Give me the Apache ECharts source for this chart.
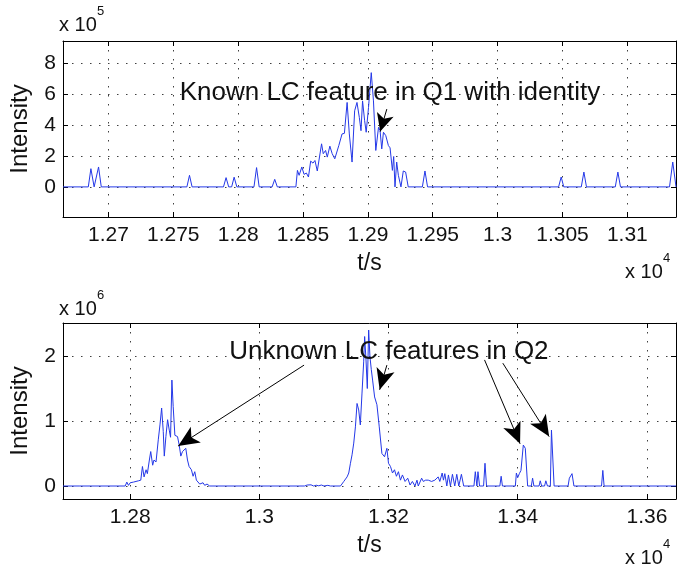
<!DOCTYPE html>
<html><head><meta charset="utf-8">
<script src="https://cdn.jsdelivr.net/npm/echarts@6/dist/echarts.min.js"></script>
<style>html,body{margin:0;padding:0;background:#fff}#c{width:685px;height:577px}</style>
</head><body><div id="c"></div>
<script>
// ---------- data (t in s, intensity in counts) ----------
const topT = [12665,12684.5,12686.5,12689,12692.4,12694.5,12760.5,12762.5,12764.5,12788.7,12790.7,12792.7,12795,12796.9,12799,12812.2,12814.2,12816.2,12826.2,12828.2,12830.2,
 12844.5,12845.7,12847.0,12849.1,12850.8,12852.6,12854.2,12855.9,12857.7,12859.2,12861.0,12864.3,12865.6,12867.4,12868.7,12870.7,12872.5,12874.5,12877.6,12880.1,12881.9,12884.0,12885.7,12887.8,12889.8,12891.6,12893.4,12894.7,12895.9,12897.5,12898.7,12900.5,12902.6,12904.3,12906.1,12908.2,12909.4,12910.7,12912.0,12913.8,12915.8,12917.1,12918.9,12919.9,12920.9,12922.2,12923.5,12925.5,12927.3,12929.1,12931.1,
 12942,12944,12946,13047,13049,13051,13064.5,13066.5,13068.5,13090.7,13092.7,13094.7,13132.5,13135,13137.5];
const topI = [0,0,118000,0,129000,0,0,75000,0,0,60000,0,0,63000,0,0,125000,0,0,49000,0,
 0,107000,75000,129000,81000,90000,64000,167000,154000,171000,103000,279000,215000,236000,193000,264000,215000,182000,268000,343000,347000,547000,343000,161000,493000,547000,450000,364000,557000,429000,354000,515000,740000,557000,236000,386000,364000,246000,354000,332000,268000,253000,107000,197000,0,161000,75000,0,103000,96000,0,
 0,103000,0,0,64000,0,0,96000,0,0,96000,0,0,161000,0];

const botT = [12696,12721,12724,12727,12792.3,12794.8,12797.4,12800,12805,12812.8,12816.4,12819,12821.5,12824.6,12826.6,12829.7,12831.8,12834.8,12836.9,12840,12843.5,12846.1,12848.7,12851.2,12852.8,12855.3,12857.9,12860.5,12862.5,12864.6,12866.6,12869.2,12873.3,12875.9,12878.4,12881,12883.5,12886.1,12888.7,12891.2,12894.8,12897.4,12900,12902.5,12905.1,12907.7,12912.8,12915.4,12919,12923,
 13070,13074,13077,13080,13084,13088,13092,13096,13100,13106,13110,13125.6,
 13130.7,13135.8,13138.4,13141,13143.5,13146.1,13148.7,13151.2,13153.8,13156.3,13158.9,13161.5,13163,13165.1,13167.1,13169.2,13171.2,13173.3,13175.3,13178.4,13182,13185.6,13189.7,13193.8,13197.4,13199.9,13203,13206.1,13209.2,13212.2,13215.3,13218.4,13221.5,13225.6,13229.7,13233.3,13236.9,13240.9,13244,13246,13251.2,13253.8,13257.4,13261.5,13266.6,13271.7,13276.8,13279.4,13283,13285,13287.1,13290.2,13292.7,13295.8,13298.9,13302.5,13305.6,13308.7,13312.8,13316.3,
 13332.2,13334.3,13336.8,13338.4,13340.9,13347.1,13349.3,13351.7,13372.3,13374.3,13376.3,13396.3,13397.9,13400,13402.5,13405,13408.6,13411.7,13415.3,13421,13423,13425,13433,13434.8,13437,13441.5,13443.5,13446,13450.5,13452.2,13456.3,13477.9,13479.9,13481.9,13484,13487,13529.7,13531.7,13533.7,13645];
const botI = [0,0,20000,0,0,60000,10000,50000,60000,80000,90000,300000,140000,250000,190000,400000,530000,320000,400000,370000,710000,940000,1200000,840000,460000,760000,1020000,860000,750000,1630000,1220000,780000,760000,630000,460000,530000,500000,580000,400000,300000,250000,150000,220000,90000,120000,30000,50000,10000,30000,0,
 0,15000,5000,18000,0,12000,3000,15000,0,10000,0,0,
 70000,140000,200000,350000,480000,660000,910000,1270000,1170000,940000,1430000,1910000,2300000,1940000,1500000,2400000,1990000,1790000,1630000,1370000,1250000,910000,500000,450000,580000,350000,300000,200000,250000,150000,220000,90000,170000,70000,120000,15000,70000,0,90000,0,120000,70000,90000,90000,70000,90000,140000,70000,200000,90000,190000,0,170000,0,180000,0,180000,0,180000,0,
 0,220000,0,220000,0,0,350000,0,0,150000,0,0,200000,130000,190000,240000,630000,580000,0,0,120000,0,0,80000,0,0,80000,0,0,860000,0,0,120000,100000,190000,0,0,240000,0,0];

const topXTicks = [12700,12750,12800,12850,12900,12950,13000,13050,13100];
const topYTicks = [0,200000,400000,600000,800000];
const botXTicks = [12800,13000,13200,13400,13600];
const botYTicks = [0,1000000,2000000];

const topNote = 'Known LC feature in Q1 with identity';
const topNoteAt = [12917, 609000];
const topArrows = [[[12914.6, 504000],[12909.5, 358000]]];
const botNote = 'Unknown LC features in Q2';
const botNoteAt = [13200.5, 2060000];
const botArrows = [
  [[13069.2, 1860000],[12874.3, 615000]],
  [[13197.4, 1860000],[13186.2, 1480000]],
  [[13348.6, 1940000],[13403.6, 650000]],
  [[13376.9, 1890000],[13448.6, 760000]]
];

// ---------- chart ----------
const FONT = 'Liberation Sans';
const fmt = (s) => (v) => String(+(v / s).toFixed(4));
const gridStyle = { show: true, lineStyle: { color: '#404040', width: 1, type: [1.5, 7.5] } };
const lineCol = '#2438e8';

function xAxes(gi, min, max, ticks, scale) {
  return [
    { type: 'value', gridIndex: gi, min, max, position: 'bottom',
      axisLine: { show: true, onZero: false, lineStyle: { color: '#000', width: 1 } },
      axisTick: { show: true, inside: true, length: 5, customValues: ticks, lineStyle: { color: '#000' } },
      axisLabel: { show: true, customValues: ticks, margin: 8, fontSize: 21, fontFamily: FONT, color: '#111', formatter: fmt(scale) },
      splitLine: gridStyle,
      name: 't/s', nameLocation: 'middle', nameGap: 35, nameTextStyle: { fontSize: 23, fontFamily: FONT, color: '#111' } },
    { type: 'value', gridIndex: gi, min, max, position: 'top',
      axisLine: { show: true, onZero: false, lineStyle: { color: '#000', width: 1 } },
      axisTick: { show: true, inside: true, length: 5, customValues: ticks, lineStyle: { color: '#000' } },
      axisLabel: { show: false }, splitLine: { show: false } }
  ];
}
function yAxes(gi, min, max, ticks, scale) {
  return [
    { type: 'value', gridIndex: gi, min, max, position: 'left',
      axisLine: { show: true, onZero: false, lineStyle: { color: '#000', width: 1 } },
      axisTick: { show: true, inside: true, length: 5, customValues: ticks, lineStyle: { color: '#000' } },
      axisLabel: { show: true, customValues: ticks, margin: 7, fontSize: 21, fontFamily: FONT, color: '#111', formatter: fmt(scale) },
      splitLine: gridStyle,
      name: 'Intensity', nameLocation: 'middle', nameGap: 31, nameTextStyle: { fontSize: 24, fontFamily: FONT, color: '#111' } },
    { type: 'value', gridIndex: gi, min, max, position: 'right',
      axisLine: { show: true, onZero: false, lineStyle: { color: '#000', width: 1 } },
      axisTick: { show: true, inside: true, length: 5, customValues: ticks, lineStyle: { color: '#000' } },
      axisLabel: { show: false }, splitLine: { show: false } }
  ];
}
function arrowLines(list, size) {
  return list.map(a => [
    { coord: a[0], symbol: 'none' },
    { coord: a[1], symbol: 'arrow', symbolSize: size }
  ]);
}
function note(text, at) {
  return { symbol: 'rect', symbolSize: 1, itemStyle: { color: 'rgba(0,0,0,0)' },
    label: { show: true, position: 'inside', fontSize: 26, fontFamily: FONT, color: '#111' },
    data: [{ coord: at, value: text, label: { formatter: text } }] };
}
function series(xi, yi, T, I, arrows, size, text, at) {
  return { type: 'line', xAxisIndex: xi, yAxisIndex: yi, data: T.map((t, i) => [t, I[i]]),
    showSymbol: false, symbol: 'none', lineStyle: { color: lineCol, width: 1 }, silent: true,
    markLine: { silent: true, animation: false, symbol: ['none', 'arrow'], label: { show: false },
      lineStyle: { color: '#000', width: 1, type: 'solid' }, emphasis: { disabled: true }, data: arrowLines(arrows, size) },
    markPoint: note(text, at) };
}

function supText(x, y, base, sup) {
  return [
    { type: 'text', left: x, top: y - 11, style: { text: base, fontSize: 20, fontFamily: FONT, fill: '#111' } },
    { type: 'text', left: x + 38, top: y - 21, style: { text: sup, fontSize: 13, fontFamily: FONT, fill: '#111' } }
  ];
}

const chart = echarts.init(document.getElementById('c'), null, { renderer: 'canvas' });
chart.setOption({
  animation: false,
  backgroundColor: '#fff',
  grid: [
    { left: 59, top: 41, width: 617, height: 176 },
    { left: 59, top: 323, width: 617, height: 176 }
  ],
  xAxis: [...xAxes(0, 12665, 13137.5, topXTicks, 1e4), ...xAxes(1, 12696, 13645, botXTicks, 1e4)],
  yAxis: [...yAxes(0, -195000, 945000, topYTicks, 1e5), ...yAxes(1, -200000, 2508000, botYTicks, 1e6)],
  series: [
    series(0, 0, topT, topI, topArrows, [13, 18], topNote, topNoteAt),
    series(2, 2, botT, botI, botArrows, [14, 21], botNote, botNoteAt)
  ],
  graphic: [
    ...supText(59, 26, 'x 10', '5'),
    ...supText(59, 310, 'x 10', '6'),
    ...supText(625, 273, 'x 10', '4'),
    ...supText(625, 559, 'x 10', '4')
  ]
});
</script></body></html>
